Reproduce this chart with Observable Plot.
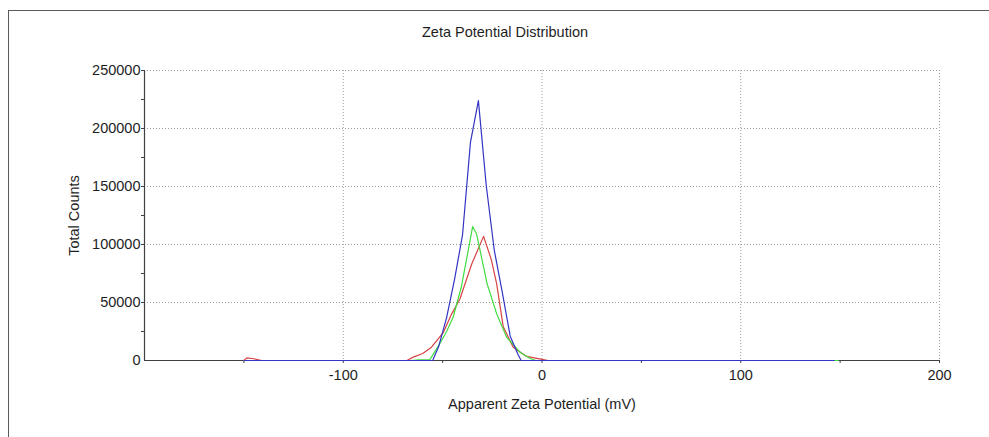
<!DOCTYPE html>
<html>
<head>
<meta charset="utf-8">
<script src="https://cdn.jsdelivr.net/npm/d3@7"></script>
<script src="https://cdn.jsdelivr.net/npm/@observablehq/plot@0.6"></script>
<style>
  html, body { margin: 0; padding: 0; background: #fff; }
  #wrap { position: relative; width: 989px; height: 437px; overflow: hidden; }
  #border { position: absolute; left: 8px; top: 10px; width: 1000px; height: 500px;
            border-left: 1.5px solid #5a5a5a; border-top: 1.5px solid #5a5a5a; }
  #chart { position: absolute; left: 0; top: 0; }
</style>
</head>
<body>
<div id="wrap"><div id="border"></div><div id="chart"></div></div>
<script>
const titleText = "Zeta Potential Distribution";
const xLabel = "Apparent Zeta Potential (mV)";
const yLabel = "Total Counts";

const xTickLabels = [-100, 0, 100, 200];
const xMinorTicks = [-150, -100, -50, 0, 50, 100, 150, 200];
const yTickLabels = [0, 50000, 100000, 150000, 200000, 250000];
const yMinorTicks = [25000, 50000, 75000, 100000, 125000, 150000, 175000, 200000, 225000, 250000];
const xGrid = [-100, 0, 100, 200];
const yGrid = [50000, 100000, 150000, 200000, 250000];

const seriesNames = ["Record 1", "Record 2", "Record 3"];
const seriesColors = ["#d84444", "#3fdc3f", "#3434c4"];

const redX = [-150, -148.5, -145, -141, -68, -64.8, -60, -55.6, -49.7, -45.5, -41.3, -35.4, -29.4, -25.5, -22.8, -19.5, -14.5, -7.7, 0.7, 3, 148];
const redY = [0, 2300, 1500, 0, 0, 2900, 6000, 11500, 24000, 40000, 53000, 83000, 107000, 87000, 66000, 29000, 11500, 3500, 700, 0, 0];

const greenX = [-150, -66, -62, -56.5, -51.4, -48, -44.7, -40.5, -34.9, -32.9, -27.6, -22.8, -17.8, -11.1, -6, -3, 149];
const greenY = [0, 0, 600, 500, 14600, 25000, 37300, 64000, 115500, 109000, 66100, 40200, 20100, 7200, 1700, 0, 0];

const blueX = [-150, -55, -52, -48, -44, -40, -36, -32, -28, -24, -20, -16, -12, -10.5, 147];
const blueY = [0, 0, 12000, 37000, 70000, 108000, 188000, 224000, 150000, 95000, 59000, 21000, 5000, 0, 0];

const allX = [redX, greenX, blueX];
const allY = [redY, greenY, blueY];
const table = [];
seriesNames.forEach((name, i) => {
  allX[i].forEach((x, j) => table.push({series: name, x, y: allY[i][j]}));
});

const gridStyle = {stroke: "#9c9c9c", strokeOpacity: 1, strokeDasharray: "1,2", strokeWidth: 1};
const axisColor = "#404040";

const chart = Plot.plot({
  width: 989,
  height: 437,
  marginLeft: 144,
  marginRight: 50,
  marginTop: 70,
  marginBottom: 77,
  style: {fontFamily: "'Liberation Sans', Arial, sans-serif", fontSize: "14.5px", color: "#1e1e1e", background: "transparent"},
  x: {domain: [-200, 200]},
  y: {domain: [0, 250000]},
  color: {domain: seriesNames, range: seriesColors},
  marks: [
    Plot.gridX(xGrid, gridStyle),
    Plot.gridY(yGrid, gridStyle),
    Plot.ruleY([0], {stroke: axisColor, strokeWidth: 1.2}),
    Plot.ruleX([-200], {stroke: axisColor, strokeWidth: 1.2}),
    Plot.axisX(xMinorTicks, {tickSize: 3, tickFormat: () => "", label: null, stroke: axisColor}),
    Plot.axisX(xTickLabels, {tickSize: 0, tickPadding: 9, tickFormat: d => String(d), label: xLabel, labelAnchor: "center", labelOffset: 48, labelArrow: "none"}),
    Plot.axisY(yMinorTicks, {tickSize: 3, tickFormat: () => "", label: null, stroke: axisColor}),
    Plot.axisY(yTickLabels, {tickSize: 0, tickPadding: 4, tickFormat: d => String(d), label: yLabel, labelAnchor: "center", labelOffset: 76, labelArrow: "none"}),
    Plot.line(table, {x: "x", y: "y", z: "series", stroke: "series", strokeWidth: 1.2, curve: "linear"}),
    Plot.text([titleText], {frameAnchor: "top", dy: -44, dx: -37, fontSize: 14.5, fill: "#1e1e1e"})
  ]
});
document.getElementById("chart").appendChild(chart);
</script>
</body>
</html>
